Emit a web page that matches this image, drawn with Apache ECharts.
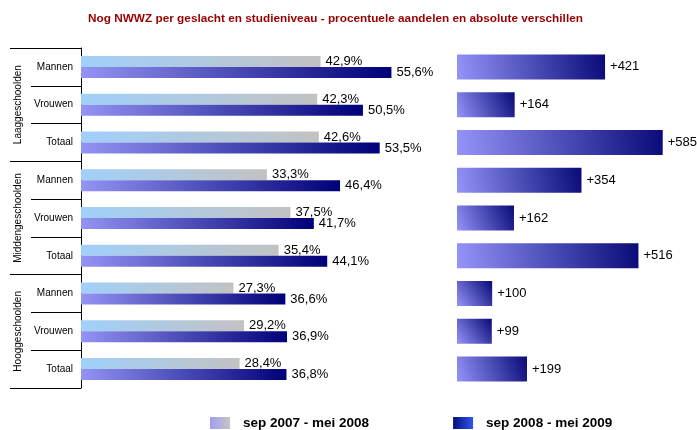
<!DOCTYPE html>
<html>
<head>
<meta charset="utf-8">
<script src="https://cdn.jsdelivr.net/npm/echarts@6/dist/echarts.min.js"></script>
<style>html,body{margin:0;padding:0;background:#fff}#c{width:697px;height:430px}</style>
</head>
<body>
<div id="c"></div>
<script>
var subCategories = ['Mannen','Vrouwen','Totaal','Mannen','Vrouwen','Totaal','Mannen','Vrouwen','Totaal'];
var groups = ['Laaggeschoolden','Middengeschoolden','Hooggeschoolden'];
var period1 = [42.9, 42.3, 42.6, 33.3, 37.5, 35.4, 27.3, 29.2, 28.4];
var period2 = [55.6, 50.5, 53.5, 46.4, 41.7, 44.1, 36.6, 36.9, 36.8];
var diffs = [421, 164, 585, 354, 162, 516, 100, 99, 199];
var seriesNames = ['sep 2007 - mei 2008', 'sep 2008 - mei 2009'];

function grad(x, y, x2, y2, c1, c2) {
  return new echarts.graphic.LinearGradient(x, y, x2, y2, [{offset: 0, color: c1}, {offset: 1, color: c2}]);
}
var font = 'Liberation Sans, Arial, sans-serif';
var pct = function (p) { return String(p.value.toFixed(1)).replace('.', ',') + '%'; };

var chart = echarts.init(document.getElementById('c'));
chart.setOption({
  animation: false,
  textStyle: {fontFamily: font},
  title: {
    text: 'Nog NWWZ per geslacht en studieniveau - procentuele aandelen en absolute verschillen',
    left: 83, top: 8,
    textStyle: {fontSize: 11.8, fontWeight: 'bold', color: '#990000', fontFamily: font}
  },
  legend: {
    left: 205, top: 411,
    itemWidth: 20, itemHeight: 12, itemGap: 84,
    textStyle: {fontSize: 13.5, fontWeight: 'bold', color: '#000', fontFamily: font, padding: [0, 0, 0, 8]},
    data: [
      {name: seriesNames[0], icon: 'rect', itemStyle: {color: grad(0, 0, 1, 0, '#9f9ff2', '#c4c4c4')}},
      {name: seriesNames[1], icon: 'rect', itemStyle: {color: grad(0, 0, 1, 0, '#00107a', '#3355f0')}}
    ]
  },
  grid: [
    {left: 81, top: 48, width: 335, height: 340},
    {left: 457, top: 48, width: 211, height: 340}
  ],
  xAxis: [
    {gridIndex: 0, type: 'value', min: 0, max: 60, show: false},
    {gridIndex: 1, type: 'value', min: 0, max: 600, show: false}
  ],
  yAxis: [
    {gridIndex: 0, type: 'category', inverse: true, data: subCategories,
     axisLine: {show: true, lineStyle: {color: '#000', width: 1}},
     axisTick: {show: true, length: 50, interval: 0, lineStyle: {color: '#000'}},
     axisLabel: {fontSize: 10, color: '#000', margin: 8, interval: 0, fontFamily: font}},
    {gridIndex: 0, type: 'category', inverse: true, data: groups, position: 'left', offset: 50,
     axisLine: {show: false},
     axisTick: {show: true, length: 21, interval: 0, lineStyle: {color: '#000'}},
     axisLabel: {fontSize: 10, color: '#000', margin: 8, rotate: 90, interval: 0, fontFamily: font}},
    {gridIndex: 1, type: 'category', inverse: true, data: subCategories, show: false}
  ],
  series: [
    {name: seriesNames[0], type: 'bar', xAxisIndex: 0, yAxisIndex: 0, data: period1,
     barWidth: 11, barGap: '0%',
     itemStyle: {color: grad(0, 1, 1, 0, '#a0d0fa', '#c2c2c2')},
     label: {show: true, position: 'right', distance: 5, formatter: pct, fontSize: 13, color: '#000', fontFamily: font}},
    {name: seriesNames[1], type: 'bar', xAxisIndex: 0, yAxisIndex: 0, data: period2,
     barWidth: 11, barGap: '0%',
     itemStyle: {color: grad(0, 1, 1, 0, '#9494f4', '#000078')},
     label: {show: true, position: 'right', distance: 5, formatter: pct, fontSize: 13, color: '#000', fontFamily: font}},
    {name: 'verschil', type: 'bar', xAxisIndex: 1, yAxisIndex: 2, data: diffs,
     barWidth: 25,
     itemStyle: {color: grad(0, 1, 1, 0, '#9494fa', '#0a0a78')},
     label: {show: true, position: 'right', distance: 5, formatter: function (p) { return '+' + p.value; }, fontSize: 13, color: '#000', fontFamily: font}}
  ]
});
</script>
</body>
</html>
